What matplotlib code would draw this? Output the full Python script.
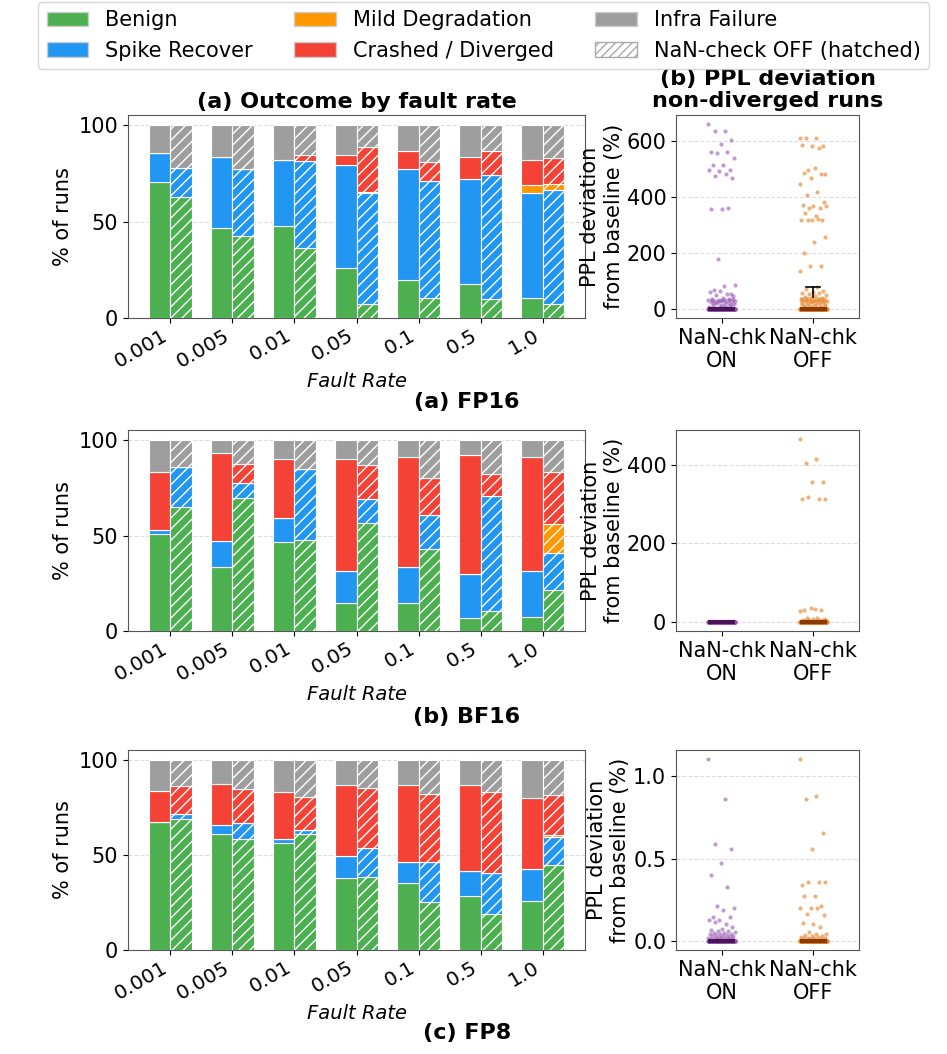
import numpy as np
import matplotlib
matplotlib.use("Agg")
import matplotlib.pyplot as plt
from matplotlib.patches import Patch

plt.rcParams['font.family'] = ['DejaVu Sans']

# ---------------- data ----------------
fault_rates = ["0.001", "0.005", "0.01", "0.05", "0.1", "0.5", "1.0"]
categories = ["Benign", "Spike Recover", "Mild Degradation", "Crashed / Diverged", "Infra Failure"]
cat_colors = ["#4caf50", "#2196f3", "#ff9800", "#f44336", "#9e9e9e"]

# % of runs per category (Benign, Spike, Mild, Crashed, Infra) for each fault rate
fp16_on_benign = [70.8, 46.5, 47.9, 25.9, 19.9, 17.7, 10.5]
fp16_on_spike = [14.9, 36.9, 34.1, 53.5, 57.4, 54.7, 54.2]
fp16_on_mild = [0.0, 0.0, 0.0, 0.0, 0.0, 0.0, 4.2]
fp16_on_crash = [0.0, 0.0, 0.0, 5.2, 9.2, 11.2, 13.3]
fp16_off_benign = [62.9, 42.7, 36.2, 7.3, 10.5, 10.0, 7.3]
fp16_off_spike = [15.2, 34.6, 45.1, 57.4, 60.5, 64.1, 59.1]
fp16_off_mild = [0.0, 0.0, 0.0, 0.7, 0.0, 0.0, 3.0]
fp16_off_crash = [0.0, 0.0, 3.1, 23.4, 9.9, 12.4, 13.5]

bf16_on_benign = [51.0, 33.7, 46.9, 14.9, 14.7, 7.0, 7.3]
bf16_on_spike = [2.1, 13.3, 12.2, 16.7, 18.9, 22.7, 24.3]
bf16_on_mild = [0.0, 0.0, 0.0, 0.0, 0.0, 0.0, 0.0]
bf16_on_crash = [30.5, 46.5, 31.1, 58.8, 57.8, 62.8, 59.5]
bf16_off_benign = [65.2, 69.6, 47.9, 56.5, 43.0, 10.7, 21.7]
bf16_off_spike = [20.8, 8.2, 37.2, 12.6, 18.0, 60.1, 19.2]
bf16_off_mild = [0.0, 0.0, 0.0, 0.0, 0.0, 0.0, 15.2]
bf16_off_crash = [0.0, 9.8, 0.0, 18.1, 19.2, 11.4, 27.3]

fp8_on_benign = [67.3, 61.0, 56.5, 37.8, 35.3, 28.7, 25.9]
fp8_on_spike = [0.3, 4.7, 2.1, 11.5, 10.9, 12.9, 16.8]
fp8_on_mild = [0.0, 0.0, 0.0, 0.0, 0.0, 0.0, 0.0]
fp8_on_crash = [16.3, 21.7, 24.6, 37.8, 40.9, 45.5, 37.2]
fp8_off_benign = [69.2, 58.7, 61.0, 38.3, 25.2, 19.2, 44.8]
fp8_off_spike = [2.7, 8.3, 2.5, 15.5, 21.0, 21.5, 15.0]
fp8_off_mild = [0.0, 0.0, 0.0, 0.0, 0.0, 0.0, 0.7]
fp8_off_crash = [14.5, 17.9, 16.9, 31.5, 35.8, 42.5, 21.3]

# PPL deviation (%) of non-diverged runs
fp16_ppl_on = [659, 635, 635, 602, 588, 560, 560, 557, 540, 514, 514, 496, 492, 496,
               480, 473, 467, 358, 355, 359, 177, 86, 82, 66, 54, 63, 59, 54, 48, 45,
               40, 36, 34, 32, 31, 30, 29, 28, 27, 25, 22, 20, 18, 15, 12, 10, 8, 6, 5, 4,
               35, 33, 31, 30, 28, 26, 24, 20, 16, 12]
fp16_ppl_off = [611, 611, 611, 580, 582, 584, 575, 494, 482, 502, 486, 482, 467, 447,
                416, 407, 380, 367, 370, 359, 361, 367, 331, 343, 316, 316, 316, 319, 316,
                255, 239, 199, 154, 154, 135, 76, 70, 65, 60, 58, 55, 52, 48, 45, 42, 40,
                38, 36, 35, 34, 33, 32, 31, 30, 29, 28, 27, 26, 25, 24, 22, 20, 18, 15,
                12, 10, 8, 6]
bf16_ppl_on = []
bf16_ppl_off = [465, 415, 405, 356, 356, 312, 312, 317, 312, 33, 30, 31, 36, 28,
                10, 9, 8, 7, 6, 5, 5, 4, 3, 2]
fp8_ppl_on = [1.105, 0.864, 0.589, 0.559, 0.472, 0.399, 0.330, 0.215, 0.200, 0.188,
              0.146, 0.146, 0.130, 0.130, 0.105, 0.115, 0.083, 0.07, 0.065, 0.06, 0.06,
              0.055, 0.05, 0.05, 0.045, 0.04, 0.04, 0.035, 0.035, 0.03, 0.03, 0.03,
              0.025, 0.025, 0.02, 0.02, 0.02, 0.015, 0.015, 0.01, 0.01, 0.01, 0.008]
fp8_ppl_off = [1.105, 0.883, 0.864, 0.654, 0.561, 0.340, 0.356, 0.356, 0.358, 0.273,
               0.273, 0.213, 0.198, 0.202, 0.198, 0.166, 0.158, 0.103, 0.107, 0.083,
               0.057, 0.045, 0.04, 0.035, 0.03, 0.03, 0.025, 0.025, 0.02, 0.02, 0.015,
               0.015, 0.01, 0.01, 0.008]
zero_runs_on = 140   # runs with ~0 deviation (NaN-check ON)
zero_runs_off = 110  # runs with ~0 deviation (NaN-check OFF)

# box statistics: (q1, median, q3, whisker_low, whisker_high)
fp16_box_on = (0, 0, 0, 0, 0)
fp16_box_off = (0, 0, 42, 0, 76)
bf16_box_on = (0, 0, 0, 0, 0)
bf16_box_off = (0, 0, 1, 0, 2)
fp8_box_on = (0, 0, 0, 0, 0)
fp8_box_off = (0, 0, 0.003, 0, 0.008)

row_titles = ["(a) FP16", "(b) BF16", "(c) FP8"]
box_labels = ["NaN-chk\nON", "NaN-chk\nOFF"]

rows = [
    ((fp16_on_benign, fp16_on_spike, fp16_on_mild, fp16_on_crash),
     (fp16_off_benign, fp16_off_spike, fp16_off_mild, fp16_off_crash),
     fp16_ppl_on, fp16_ppl_off, fp16_box_on, fp16_box_off),
    ((bf16_on_benign, bf16_on_spike, bf16_on_mild, bf16_on_crash),
     (bf16_off_benign, bf16_off_spike, bf16_off_mild, bf16_off_crash),
     bf16_ppl_on, bf16_ppl_off, bf16_box_on, bf16_box_off),
    ((fp8_on_benign, fp8_on_spike, fp8_on_mild, fp8_on_crash),
     (fp8_off_benign, fp8_off_spike, fp8_off_mild, fp8_off_crash),
     fp8_ppl_on, fp8_ppl_off, fp8_box_on, fp8_box_off),
]

# ---------------- figure ----------------
W, H = 947, 1054
fig = plt.figure(figsize=(W / 100, H / 100), dpi=100)

bar_axes_px = [(115, 318), (430, 631), (750, 950)]
TICK = 15

purple = "#9b59b6"
purple_dark = "#4a1456"
orange = "#e67e22"
orange_dark = "#8a3b00"

def golden_offsets(n, half):
    return (((np.arange(n) * 0.6180339887) % 1.0) - 0.5) * 2 * half

for r, (on_vals, off_vals, ppl_on, ppl_off, box_on, box_off) in enumerate(rows):
    top, bot = bar_axes_px[r]
    ax = fig.add_axes([128 / W, 1 - bot / H, (585 - 128) / W, (bot - top) / H])
    x = np.arange(len(fault_rates))
    w = 0.35
    for off, vals, hatch in [(-w / 2, on_vals, None), (w / 2, off_vals, '///')]:
        bottom = np.zeros(len(x))
        stack = list(vals) + [100 - np.sum(vals, axis=0)]
        for k, v in enumerate(stack):
            v = np.asarray(v, dtype=float)
            ax.bar(x + off, v, w, bottom=bottom, color=cat_colors[k],
                   edgecolor='white', linewidth=0.8, hatch=hatch, zorder=3)
            bottom = bottom + v
    ax.set_ylim(0, 105.4)
    ax.set_yticks([0, 50, 100])
    ax.yaxis.grid(True, linestyle='--', color='#dddddd', linewidth=0.8, zorder=0)
    ax.set_axisbelow(True)
    ax.set_xticks(x)
    ax.set_xticklabels(fault_rates, rotation=30, ha='right', rotation_mode='default')
    ax.tick_params(axis='y', labelsize=TICK)
    ax.tick_params(axis='x', labelsize=14.5, pad=2)
    ax.set_ylabel("% of runs", fontsize=TICK)
    ax.set_xlabel("Fault Rate", fontsize=14, style='italic', labelpad=1)
    for s in ax.spines.values():
        s.set_color('#555555')
    if r == 0:
        ax.set_title("(a) Outcome by fault rate", fontsize=16, fontweight='bold', pad=5)

    # right panel
    ax2 = fig.add_axes([676 / W, 1 - bot / H, 183 / W, (bot - top) / H])
    stats = []
    for lab, b in zip(box_labels, [box_on, box_off]):
        q1, med, q3, wl, wh = b
        stats.append(dict(med=med, q1=q1, q3=q3, whislo=wl, whishi=wh, fliers=[], label=lab))
    bp = ax2.bxp(stats, positions=[0, 1], widths=0.3, showfliers=False, patch_artist=True,
                 manage_ticks=False)
    for patch, fc in zip(bp['boxes'], [purple, orange]):
        patch.set_facecolor(fc)
        patch.set_alpha(0.3)
        patch.set_edgecolor('none')
    for med, mc in zip(bp['medians'], [purple_dark, orange_dark]):
        med.set_color(mc)
        med.set_linewidth(3)
        med.set_zorder(5)
    for line in bp['whiskers'] + bp['caps']:
        line.set_color('black')
        line.set_linewidth(1.2)
        line.set_zorder(4)

    for pos, vals, nz, col in [(0, ppl_on, zero_runs_on, purple), (1, ppl_off, zero_runs_off, orange)]:
        allv = np.array(list(vals) + [0.0] * nz, dtype=float)
        xs = pos + golden_offsets(len(allv), 0.15)
        ax2.scatter(xs, allv, s=9, color=col, alpha=0.6, linewidths=0, zorder=3)

    ax2.set_xlim(-0.5, 1.5)
    ax2.set_xticks([0, 1])
    ax2.set_xticklabels(box_labels)
    ax2.margins(y=0.05)
    ax2.yaxis.grid(True, linestyle='--', color='#dddddd', linewidth=0.8, zorder=0)
    ax2.set_axisbelow(True)
    ax2.tick_params(labelsize=TICK)
    ax2.set_ylabel("PPL deviation\nfrom baseline (%)", fontsize=15, labelpad=2)
    for s in ax2.spines.values():
        s.set_color('#555555')
    if r == 2:
        ax2.set_yticks([0.0, 0.5, 1.0])
    if r == 0:
        ax2.set_title("(b) PPL deviation\nnon-diverged runs", fontsize=16,
                      fontweight='bold', pad=6, linespacing=1.1)

    ylab_y = [402, 717, 1033][r]
    fig.text(467 / W, 1 - ylab_y / H, row_titles[r], ha='center', va='center',
             fontsize=16, fontweight='bold')

handles = [Patch(facecolor=c, edgecolor='#cccccc', label=l) for c, l in zip(cat_colors, categories)]
handles.append(Patch(facecolor='white', edgecolor='#aaaaaa', hatch='////', label='NaN-check OFF (hatched)'))
fig.legend(handles, [h.get_label() for h in handles],
           loc='upper center', bbox_to_anchor=(483.5 / W, 1.0), ncol=3, fontsize=15,
           borderaxespad=0.1, frameon=True, edgecolor='#cccccc')

fig.savefig("out.png", dpi=100)
